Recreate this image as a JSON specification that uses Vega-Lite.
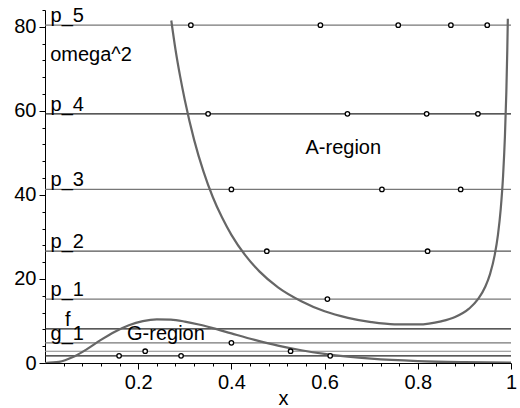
{
  "$schema": "https://vega.github.io/schema/vega-lite/v6.json",
  "width": 466,
  "height": 353,
  "autosize": {"type": "none"},
  "padding": {"left": 45, "top": 10, "right": 9, "bottom": 45},
  "background": "white",
  "config": {
    "view": {"stroke": null},
    "text": {"font": "Liberation Sans", "fontSize": 20, "color": "black"},
    "axis": {"labelFont": "Liberation Sans", "titleFont": "Liberation Sans", "grid": false, "tickColor": "black", "domainColor": "black", "labelColor": "black"}
  },
  "resolve": {"axis": {"x": "independent", "y": "independent"}},
  "datasets": {
    "lines": [
      {"name": "p_5", "y": 80.4, "label": "p_5", "lx": 0.012},
      {"name": "p_4", "y": 59.3, "label": "p_4", "lx": 0.012},
      {"name": "p_3", "y": 41.3, "label": "p_3", "lx": 0.012},
      {"name": "p_2", "y": 26.6, "label": "p_2", "lx": 0.012},
      {"name": "p_1", "y": 15.2, "label": "p_1", "lx": 0.012},
      {"name": "f", "y": 8.1, "label": "f", "lx": 0.043},
      {"name": "g_1", "y": 4.8, "label": "g_1", "lx": 0.012},
      {"name": "g_2", "y": 2.8, "label": "", "lx": 0.012},
      {"name": "g_3", "y": 1.7, "label": "", "lx": 0.012}
    ],
    "curves": [
      {"curve": "A", "x": 0.271, "y": 81.5},
      {"curve": "A", "x": 0.28, "y": 74.6},
      {"curve": "A", "x": 0.29, "y": 68.2},
      {"curve": "A", "x": 0.30, "y": 62.6},
      {"curve": "A", "x": 0.32, "y": 53.1},
      {"curve": "A", "x": 0.34, "y": 45.6},
      {"curve": "A", "x": 0.36, "y": 39.5},
      {"curve": "A", "x": 0.38, "y": 34.6},
      {"curve": "A", "x": 0.40, "y": 30.5},
      {"curve": "A", "x": 0.43, "y": 25.6},
      {"curve": "A", "x": 0.46, "y": 21.8},
      {"curve": "A", "x": 0.50, "y": 18.0},
      {"curve": "A", "x": 0.55, "y": 14.7},
      {"curve": "A", "x": 0.60, "y": 12.3},
      {"curve": "A", "x": 0.65, "y": 10.75},
      {"curve": "A", "x": 0.70, "y": 9.73},
      {"curve": "A", "x": 0.75, "y": 9.19},
      {"curve": "A", "x": 0.80, "y": 9.17},
      {"curve": "A", "x": 0.85, "y": 9.91},
      {"curve": "A", "x": 0.88, "y": 10.94},
      {"curve": "A", "x": 0.91, "y": 12.93},
      {"curve": "A", "x": 0.93, "y": 15.29},
      {"curve": "A", "x": 0.945, "y": 18.19},
      {"curve": "A", "x": 0.955, "y": 21.16},
      {"curve": "A", "x": 0.965, "y": 25.66},
      {"curve": "A", "x": 0.972, "y": 30.5},
      {"curve": "A", "x": 0.978, "y": 36.7},
      {"curve": "A", "x": 0.983, "y": 44.5},
      {"curve": "A", "x": 0.987, "y": 54.0},
      {"curve": "A", "x": 0.990, "y": 64.5},
      {"curve": "A", "x": 0.992, "y": 74.3},
      {"curve": "A", "x": 0.9932, "y": 81.9},
      {"curve": "G", "x": 0.0, "y": 0.0},
      {"curve": "G", "x": 0.03, "y": 0.25},
      {"curve": "G", "x": 0.06, "y": 1.4},
      {"curve": "G", "x": 0.09, "y": 3.3},
      {"curve": "G", "x": 0.12, "y": 5.5},
      {"curve": "G", "x": 0.15, "y": 7.45},
      {"curve": "G", "x": 0.18, "y": 9.0},
      {"curve": "G", "x": 0.21, "y": 9.97},
      {"curve": "G", "x": 0.24, "y": 10.37},
      {"curve": "G", "x": 0.27, "y": 10.31},
      {"curve": "G", "x": 0.30, "y": 9.86},
      {"curve": "G", "x": 0.33, "y": 9.16},
      {"curve": "G", "x": 0.36, "y": 8.3},
      {"curve": "G", "x": 0.40, "y": 7.04},
      {"curve": "G", "x": 0.45, "y": 5.5},
      {"curve": "G", "x": 0.50, "y": 4.14},
      {"curve": "G", "x": 0.55, "y": 3.03},
      {"curve": "G", "x": 0.60, "y": 2.16},
      {"curve": "G", "x": 0.65, "y": 1.51},
      {"curve": "G", "x": 0.70, "y": 1.03},
      {"curve": "G", "x": 0.80, "y": 0.46},
      {"curve": "G", "x": 0.90, "y": 0.2},
      {"curve": "G", "x": 1.0, "y": 0.08}
    ],
    "dots": [
      {"x": 0.313, "y": 80.4}, {"x": 0.591, "y": 80.4}, {"x": 0.758, "y": 80.4}, {"x": 0.871, "y": 80.4}, {"x": 0.949, "y": 80.4},
      {"x": 0.350, "y": 59.3}, {"x": 0.649, "y": 59.3}, {"x": 0.819, "y": 59.3}, {"x": 0.929, "y": 59.3},
      {"x": 0.400, "y": 41.3}, {"x": 0.723, "y": 41.3}, {"x": 0.892, "y": 41.3},
      {"x": 0.476, "y": 26.6}, {"x": 0.821, "y": 26.6},
      {"x": 0.606, "y": 15.2},
      {"x": 0.400, "y": 4.8},
      {"x": 0.215, "y": 2.8}, {"x": 0.527, "y": 2.8},
      {"x": 0.159, "y": 1.7}, {"x": 0.292, "y": 1.7}, {"x": 0.612, "y": 1.7}
    ],
    "notes": [
      {"text": "omega^2", "x": 0.011, "y": 71.8},
      {"text": "A-region", "x": 0.559, "y": 49.8},
      {"text": "G-region", "x": 0.176, "y": 5.5}
    ]
  },
  "layer": [
    {
      "data": {"name": "lines"},
      "mark": {"type": "rule", "strokeWidth": 1.2},
      "encoding": {
        "y": {
          "field": "y", "type": "quantitative",
          "scale": {"domain": [0, 84], "nice": false, "zero": false},
          "axis": {
            "orient": "left",
            "values": [0, 20, 40, 60, 80],
            "format": "d",
            "labelFontSize": 20,
            "labelPadding": 3,
            "labelOverlap": false,
            "labelFlush": false,
            "tickSize": 6,
            "title": null
          }
        },
        "color": {
          "field": "name", "type": "nominal", "legend": null,
          "scale": {
            "domain": ["p_5", "p_4", "p_3", "p_2", "p_1", "f", "g_1", "g_2", "g_3"],
            "range": ["#777777", "#222222", "#777777", "#555555", "#777777", "#222222", "#777777", "#888888", "#222222"]
          }
        }
      }
    },
    {
      "data": {"name": "lines"},
      "mark": {"type": "text", "align": "left", "baseline": "alphabetic", "dy": -3},
      "encoding": {
        "x": {
          "field": "lx", "type": "quantitative",
          "scale": {"domain": [0, 1], "nice": false, "zero": false},
          "axis": {
            "orient": "bottom",
            "values": [0.2, 0.4, 0.6, 0.8, 1],
            "format": "~g",
            "labelFontSize": 20,
            "labelPadding": 3,
            "labelOverlap": false,
            "labelFlush": false,
            "tickSize": 6,
            "title": "x",
            "titleFontSize": 20,
            "titleFontWeight": "normal",
            "titleColor": "black",
            "titleX": 238,
            "titleY": 41,
            "titleBaseline": "alphabetic",
            "titleAlign": "center"
          }
        },
        "y": {"field": "y", "type": "quantitative", "axis": null},
        "text": {"field": "label"}
      }
    },
    {
      "data": {"name": "curves"},
      "mark": {"type": "line", "color": "#666666", "strokeWidth": 2.2, "interpolate": "monotone", "clip": true},
      "encoding": {
        "x": {
          "field": "x", "type": "quantitative",
          "axis": {
            "orient": "bottom",
            "values": [0.04, 0.08, 0.12, 0.16, 0.24, 0.28, 0.32, 0.36, 0.44, 0.48, 0.52, 0.56, 0.64, 0.68, 0.72, 0.76, 0.84, 0.88, 0.92, 0.96],
            "labels": false,
            "domain": false,
            "tickSize": 3,
            "title": null
          }
        },
        "y": {
          "field": "y", "type": "quantitative",
          "axis": {
            "orient": "left",
            "values": [4, 8, 12, 16, 24, 28, 32, 36, 44, 48, 52, 56, 64, 68, 72, 76, 84],
            "labels": false,
            "domain": false,
            "tickSize": 3,
            "title": null
          }
        },
        "detail": {"field": "curve"}
      }
    },
    {
      "data": {"name": "dots"},
      "mark": {"type": "point", "shape": "circle", "filled": false, "fill": "white", "fillOpacity": 1, "stroke": "black", "strokeWidth": 1.3, "size": 20, "opacity": 1},
      "encoding": {
        "x": {"field": "x", "type": "quantitative", "axis": null},
        "y": {"field": "y", "type": "quantitative", "axis": null}
      }
    },
    {
      "data": {"name": "notes"},
      "mark": {"type": "text", "align": "left", "baseline": "alphabetic"},
      "encoding": {
        "x": {"field": "x", "type": "quantitative", "axis": null},
        "y": {"field": "y", "type": "quantitative", "axis": null},
        "text": {"field": "text"}
      }
    }
  ]
}
